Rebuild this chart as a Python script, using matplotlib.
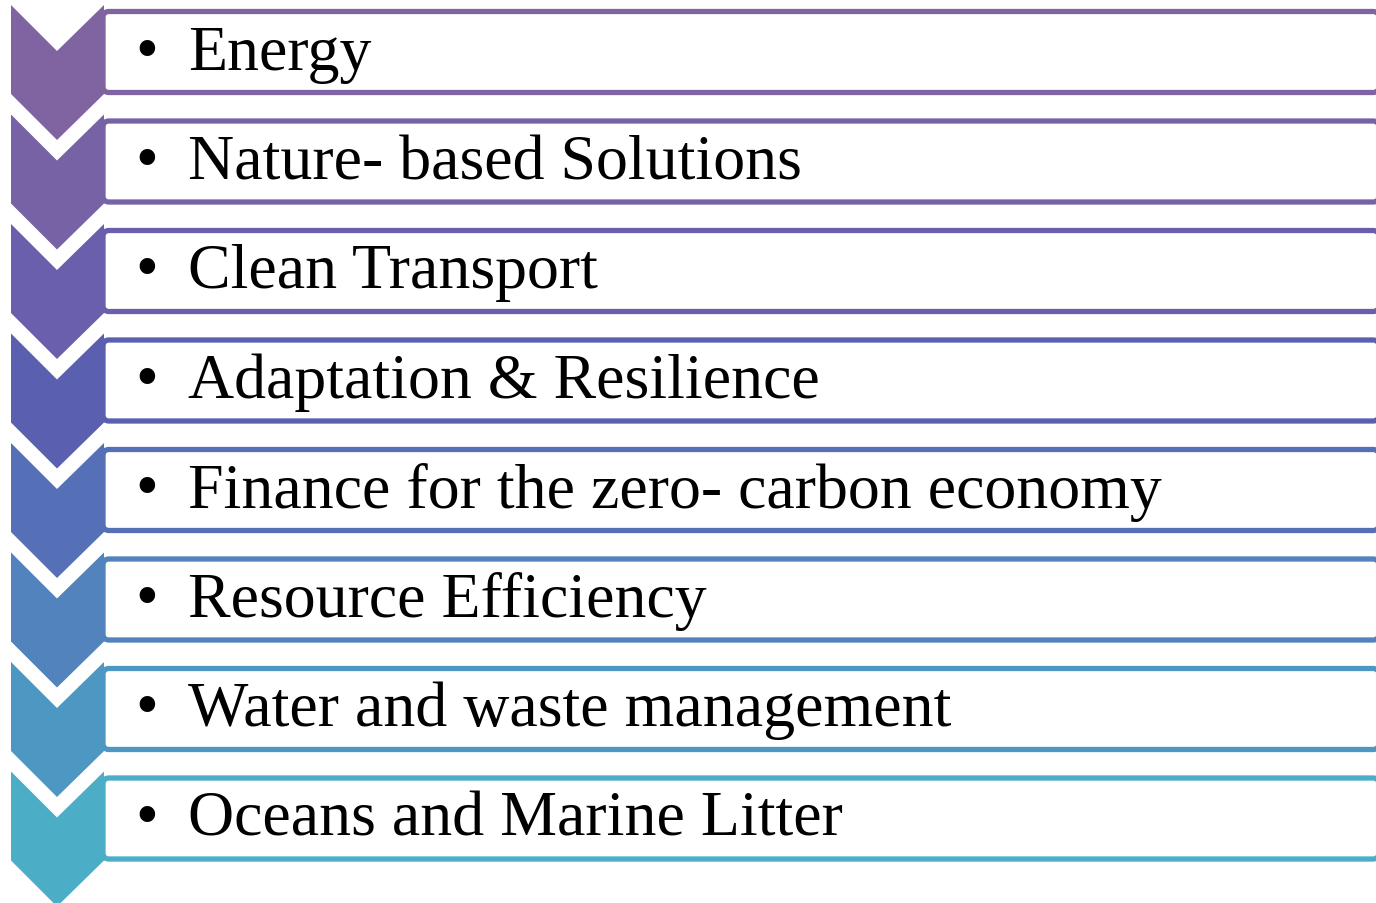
import matplotlib
matplotlib.use("Agg")
import matplotlib.pyplot as plt
from matplotlib.patches import Polygon, FancyBboxPatch

labels = ["Energy",
          "Nature- based Solutions",
          "Clean Transport",
          "Adaptation & Resilience",
          "Finance for the zero- carbon economy",
          "Resource Efficiency",
          "Water and waste management",
          "Oceans and Marine Litter"]
colors = ["#8064A2", "#7762A6", "#6A5FAD", "#5B5FB0",
          "#5670B8", "#5283BC", "#4D98C2", "#4BADC6"]

fig = plt.figure(figsize=(13.76, 9.04), dpi=100)
ax = fig.add_axes([0, 0, 1, 1])
ax.set_xlim(0, 1376)
ax.set_ylim(904, 0)
ax.axis("off")

pitch = 109.5
for i, (lab, c) in enumerate(zip(labels, colors)):
    y0 = 6 + i * pitch
    # box on the right, runs off the right edge like the original
    box = FancyBboxPatch((103, y0 + 6.5), 1276, 81,
                         boxstyle="round,pad=0,rounding_size=6",
                         fc="white", ec=c, lw=3.8, zorder=1)
    ax.add_patch(box)
    # chevron (covers the left side of the box)
    chev = Polygon([(11, y0), (57, y0 + 46), (104, y0), (104, y0 + 89),
                    (57, y0 + 135), (11, y0 + 89)],
                   closed=True, fc=c, ec="none", zorder=2)
    ax.add_patch(chev)
    base = y0 + 63.5
    ax.text(147, base, "\u2022", ha="center", va="baseline",
            fontsize=47, family="Liberation Serif", color="black")
    ax.text(188, base, lab, ha="left", va="baseline",
            fontsize=46, family="Liberation Serif", color="black")

fig.savefig("out.png", dpi=100)
